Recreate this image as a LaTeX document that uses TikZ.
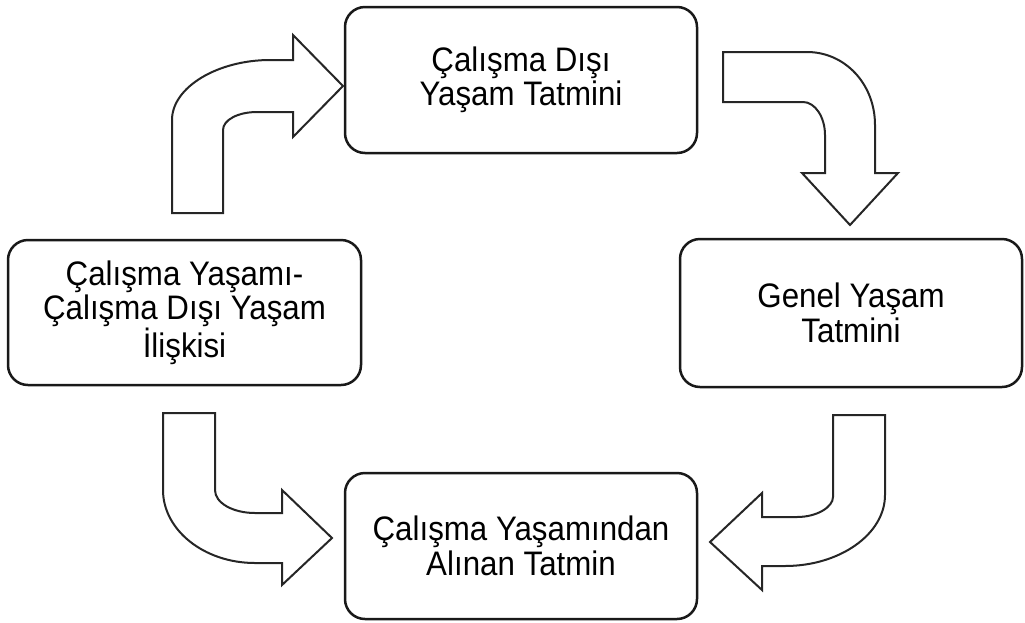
\documentclass[tikz,border=0pt]{standalone}
\usepackage{fontspec}
\setmainfont[FakeStretch=0.92]{Liberation Sans}
\begin{document}
\begin{tikzpicture}[x=1pt,y=-1pt,
  box/.style={draw=black!90, line width=2.5pt, rounded corners=20pt, fill=white,
    align=center, font=\fontsize{34}{34.5}\selectfont, inner sep=0pt},
  blockarrow/.style={draw=black!85, line width=2pt, fill=white, line join=miter}]
\useasboundingbox (0,0) rectangle (1025,622);

% block arrows
\draw[blockarrow] (172,213) -- (172,120) .. controls (172,87) and (218,60) .. (270,60)
  -- (293,60) -- (293,35) -- (343,86) -- (293,137) -- (293,112) -- (257,112)
  .. controls (238,112) and (223,120) .. (223,130) -- (223,213) -- cycle;

\draw[blockarrow] (723,52) -- (807,52) .. controls (845,52) and (875,84) .. (875,125)
  -- (875,173) -- (898,173) -- (850,225) -- (802,173) -- (825,173) -- (825,135)
  .. controls (825,117) and (815,102) .. (803,102) -- (723,102) -- cycle;

\draw[blockarrow] (163,413) -- (163,490) .. controls (163,530) and (204,563) .. (255,563)
  -- (282,563) -- (282,585) -- (332,538) -- (282,490) -- (282,513) -- (255,513)
  .. controls (233,513) and (215,503) .. (215,490) -- (215,413) -- cycle;

\draw[blockarrow] (885,415) -- (885,495) .. controls (885,534) and (840,566) .. (785,566)
  -- (762,566) -- (762,590) -- (710,542) -- (762,493) -- (762,517) -- (797,517)
  .. controls (817,517) and (833,507) .. (833,497) -- (833,415) -- cycle;

% boxes
\node[box, minimum width=352pt, minimum height=146pt] (T) at (521,80) {Çalışma Dışı\\Yaşam Tatmini};
\node[box, minimum width=353pt, minimum height=145pt] (L) at (184.5,312.5) {Çalışma Yaşamı-\\Çalışma Dışı Yaşam\\İlişkisi};
\node[box, minimum width=342pt, minimum height=148pt] (R) at (851,313) {Genel Yaşam\\Tatmini};
\node[box, minimum width=352pt, minimum height=146pt] (B) at (521,546) {Çalışma Yaşamından\\Alınan Tatmin};
\end{tikzpicture}
\end{document}
